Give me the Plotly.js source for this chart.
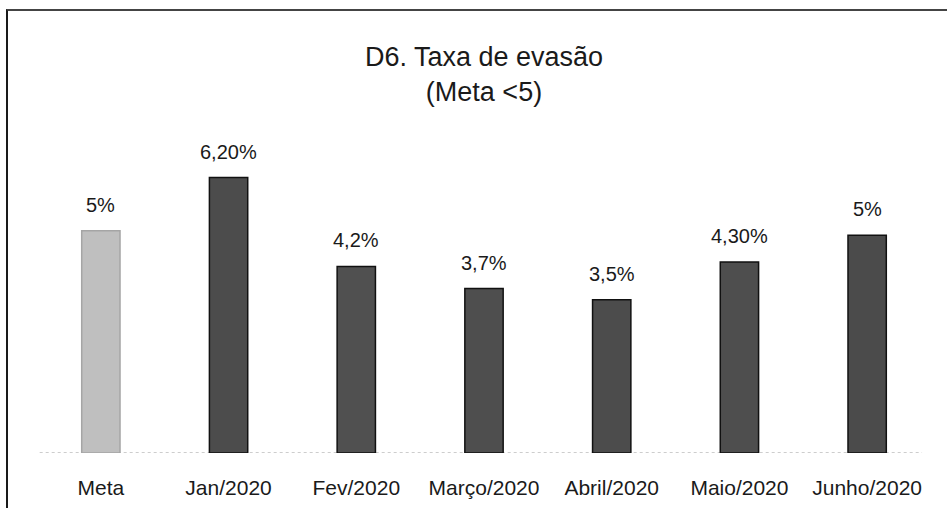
<!DOCTYPE html>
<html>
<head>
<meta charset="utf-8">
<script src="https://cdn.plot.ly/plotly-3.0.1.min.js"></script>
<style>
  html, body { margin: 0; padding: 0; background: #fff; }
  #wrap { position: relative; width: 947px; height: 508px; }
  #chart { position: absolute; left: 0; top: 0; width: 947px; height: 508px; }
  #frame { position: absolute; left: 6px; top: 9px; width: 941px; height: 499px;
           border-top: 2px solid #444; border-left: 2px solid #1a1a1a; box-sizing: border-box; pointer-events: none; }
</style>
</head>
<body>
<div id="wrap">
  <div id="chart"></div>
  <div id="frame"></div>
</div>
<script>
const categories = ["Meta", "Jan/2020", "Fev/2020", "Março/2020", "Abril/2020", "Maio/2020", "Junho/2020"];
const values = [5, 6.2, 4.2, 3.7, 3.45, 4.3, 4.9];
const valueLabels = ["5%", "6,20%", "4,2%", "3,7%", "3,5%", "4,30%", "5%"];
const barColors = ["#bfbfbf", "#4c4c4c", "#505050", "#4e4e4e", "#4c4c4c", "#4e4e4e", "#4b4b4b"];
const barEdges = ["#a5a5a5", "#111111", "#111111", "#111111", "#111111", "#111111", "#111111"];

const trace = {
  type: "bar",
  x: categories,
  y: values,
  marker: { color: barColors, line: { color: barEdges, width: 1.5 } },
  hoverinfo: "skip"
};

const annotations = categories.map((c, i) => ({
  x: c, y: values[i], xref: "x", yref: "y",
  text: valueLabels[i], showarrow: false,
  xanchor: "center", yanchor: "bottom", yshift: 13,
  font: { family: "Liberation Sans, Arial, sans-serif", size: 20, color: "#1a1a1a" }
}));

const layout = {
  width: 947, height: 508,
  margin: { l: 37, r: 16, t: 142, b: 55 },
  paper_bgcolor: "rgba(0,0,0,0)",
  plot_bgcolor: "rgba(0,0,0,0)",
  showlegend: false,
  bargap: 0.7,
  title: {
    text: "D6. Taxa de evasão<br>(Meta <5)",
    x: 0.5, xref: "paper", xanchor: "center",
    y: 0.870, yref: "container", yanchor: "top",
    font: { family: "Liberation Sans, Arial, sans-serif", size: 27, color: "#1a1a1a" }
  },
  xaxis: {
    type: "category",
    showline: false, showgrid: false, zeroline: false,
    ticks: "", ticklabelstandoff: 20,
    tickfont: { family: "Liberation Sans, Arial, sans-serif", size: 21, color: "#1a1a1a" }
  },
  yaxis: {
    range: [0, 7], showgrid: false, showline: false, zeroline: false,
    showticklabels: false, ticks: ""
  },
  shapes: [{
    type: "line", xref: "paper", yref: "y", x0: 0.003, x1: 0.99, y0: 0, y1: 0,
    line: { color: "#9a9a9a", width: 1, dash: "dot" }, layer: "below"
  }],
  annotations: annotations
};

Plotly.newPlot("chart", [trace], layout, { displayModeBar: false, staticPlot: true });
</script>
</body>
</html>
